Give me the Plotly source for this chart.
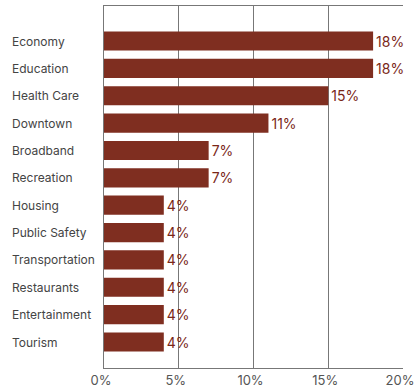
import plotly.graph_objects as go

categories = ["Economy", "Education", "Health Care", "Downtown", "Broadband", "Recreation",
              "Housing", "Public Safety", "Transportation", "Restaurants", "Entertainment", "Tourism"]
values = [18, 18, 15, 11, 7, 7, 4, 4, 4, 4, 4, 4]
tick_vals = [0, 5, 10, 15, 20]
tick_text = ["0%", "5%", "10%", "15%", "20%"]

L, R, T, B = 104, 12, 6, 22
W, H = 415, 390
pw = W - L - R

fig = go.Figure(go.Bar(
    x=values, y=categories, orientation="h",
    marker=dict(color="#7f2e20", line=dict(width=0)),
    width=0.7,
    text=[f"{v}%" for v in values], textposition="outside",
    textfont=dict(color="#7a2718", size=14, family="Inter"),
    cliponaxis=False,
))
for c in categories:
    fig.add_annotation(x=(10 - L) / pw, xref="paper", y=c, yref="y", text=c,
                       showarrow=False, xanchor="left",
                       font=dict(size=12, color="#444", family="Inter"))
fig.update_layout(
    width=W, height=H,
    margin=dict(l=L, r=R, t=T, b=B),
    plot_bgcolor="white", paper_bgcolor="white",
    font=dict(family="Inter", color="#444"),
    showlegend=False,
    xaxis=dict(range=[0, 20], tickvals=tick_vals, ticktext=tick_text,
               showgrid=True, gridcolor="#777", gridwidth=1,
               showline=True, linecolor="#777", mirror=True, automargin=False,
               ticklabeloverflow="allow", ticklabelshift=-3,
               tickfont=dict(size=13, color="#555"), zeroline=False, fixedrange=True),
    yaxis=dict(categoryorder="array", categoryarray=categories,
               range=[11.95, -1.28], showgrid=False, showticklabels=False,
               showline=True, linecolor="#777", automargin=False, ticks=""),
)
fig.write_html("out.html")
